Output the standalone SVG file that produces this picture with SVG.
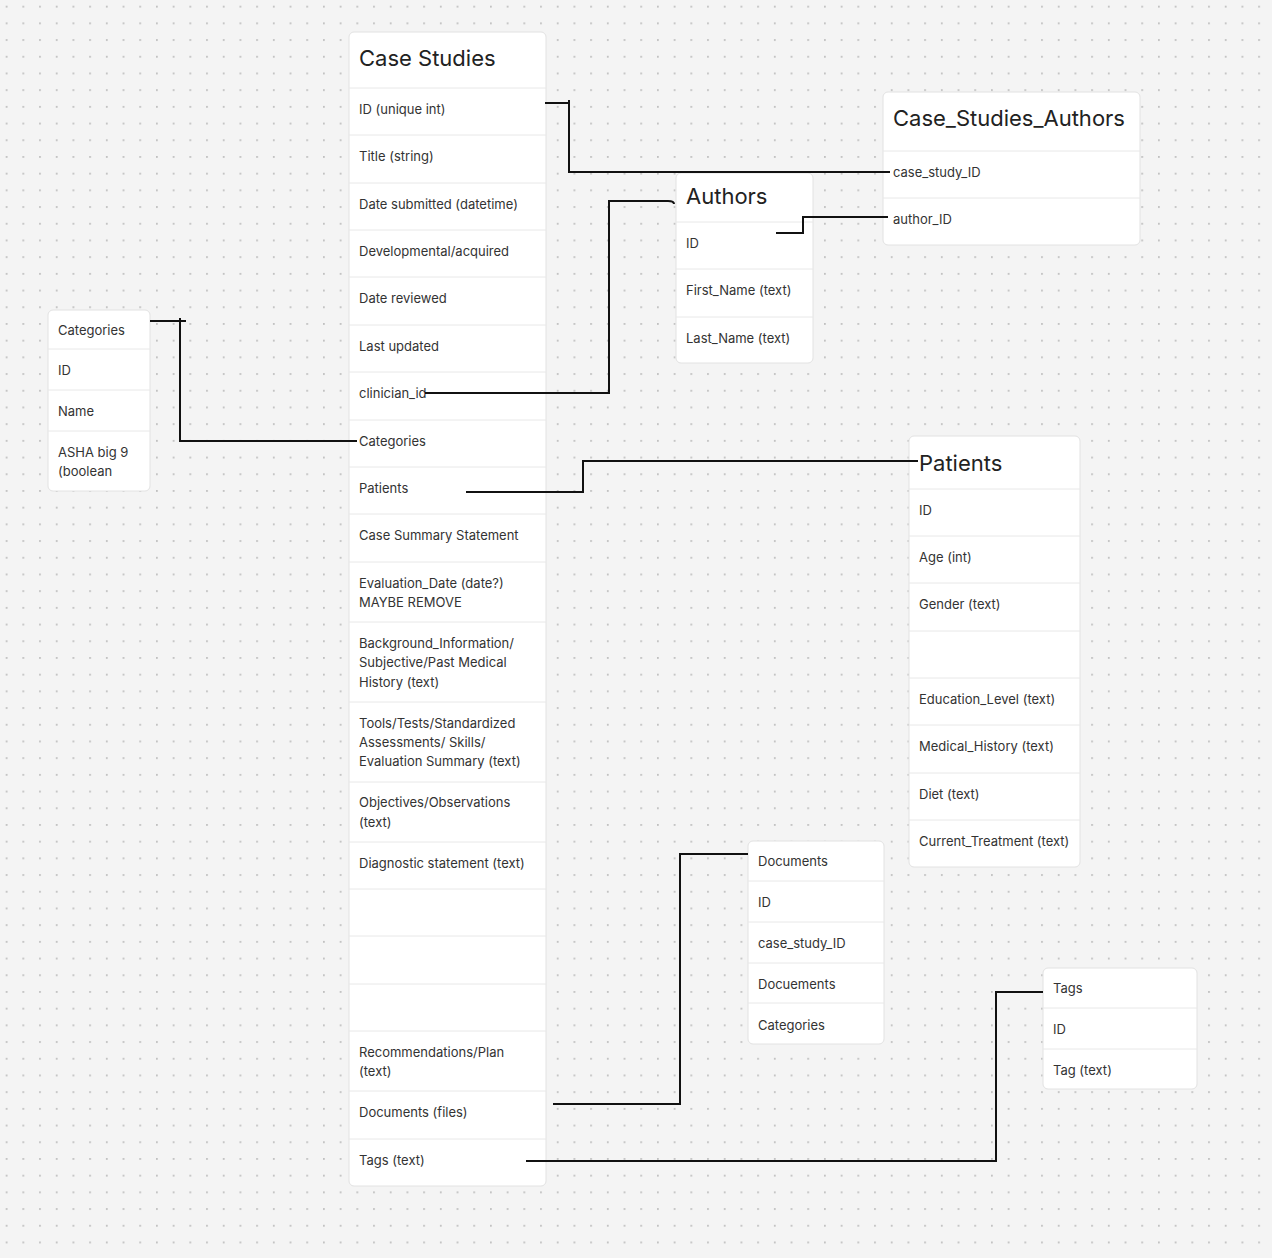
<svg xmlns="http://www.w3.org/2000/svg" width="1272" height="1258" viewBox="0 0 1272 1258">
<defs>
<pattern id="dots" x="5.7" y="5.7" width="16.7" height="16.7" patternUnits="userSpaceOnUse"><circle cx="0.9" cy="0.9" r="0.9" fill="#b0b0b0"/></pattern>
<style>
.box{fill:#fff;stroke:#e2e2e2;stroke-width:1}
.div{stroke:#e8e8e8;stroke-width:1}
.t{font-family:Inter,"Liberation Sans",sans-serif;font-size:13px;fill:#333}
.h{font-family:Inter,"Liberation Sans",sans-serif;font-size:22px;fill:#222}
.c{fill:none;stroke:#111;stroke-width:2}
</style>
</defs>
<rect width="1272" height="1258" fill="#f4f4f4"/>
<rect width="1272" height="1258" fill="url(#dots)"/>

<g id="case-studies">
<rect class="box" x="349" y="32" width="197" height="1154" rx="5"/>
<g class="div">
<line x1="349" x2="546" y1="88" y2="88"/><line x1="349" x2="546" y1="135" y2="135"/><line x1="349" x2="546" y1="183" y2="183"/><line x1="349" x2="546" y1="230" y2="230"/><line x1="349" x2="546" y1="277" y2="277"/><line x1="349" x2="546" y1="325" y2="325"/><line x1="349" x2="546" y1="372" y2="372"/><line x1="349" x2="546" y1="420" y2="420"/><line x1="349" x2="546" y1="467" y2="467"/><line x1="349" x2="546" y1="514" y2="514"/><line x1="349" x2="546" y1="562" y2="562"/><line x1="349" x2="546" y1="622" y2="622"/><line x1="349" x2="546" y1="702" y2="702"/><line x1="349" x2="546" y1="782" y2="782"/><line x1="349" x2="546" y1="842" y2="842"/><line x1="349" x2="546" y1="889" y2="889"/><line x1="349" x2="546" y1="936" y2="936"/><line x1="349" x2="546" y1="984" y2="984"/><line x1="349" x2="546" y1="1031" y2="1031"/><line x1="349" x2="546" y1="1091" y2="1091"/><line x1="349" x2="546" y1="1139" y2="1139"/>
</g>
<text class="h" x="359" y="66">Case Studies</text>
<text class="t" x="359" y="114">ID (unique int)</text>
<text class="t" x="359" y="161">Title (string)</text>
<text class="t" x="359" y="209">Date submitted (datetime)</text>
<text class="t" x="359" y="256">Developmental/acquired</text>
<text class="t" x="359" y="303">Date reviewed</text>
<text class="t" x="359" y="351">Last updated</text>
<text class="t" x="359" y="398">clinician_id</text>
<text class="t" x="359" y="446">Categories</text>
<text class="t" x="359" y="493">Patients</text>
<text class="t" x="359" y="540">Case Summary Statement</text>
<text class="t" x="359" y="588">Evaluation_Date (date?)</text>
<text class="t" x="359" y="607">MAYBE REMOVE</text>
<text class="t" x="359" y="648">Background_Information/</text>
<text class="t" x="359" y="667">Subjective/Past Medical</text>
<text class="t" x="359" y="687">History (text)</text>
<text class="t" x="359" y="728">Tools/Tests/Standardized</text>
<text class="t" x="359" y="747">Assessments/ Skills/</text>
<text class="t" x="359" y="766">Evaluation Summary (text)</text>
<text class="t" x="359" y="807">Objectives/Observations</text>
<text class="t" x="359" y="827">(text)</text>
<text class="t" x="359" y="868">Diagnostic statement (text)</text>
<text class="t" x="359" y="1057">Recommendations/Plan</text>
<text class="t" x="359" y="1076">(text)</text>
<text class="t" x="359" y="1117">Documents (files)</text>
<text class="t" x="359" y="1165">Tags (text)</text>
</g>

<g id="case-studies-authors">
<rect class="box" x="883" y="92" width="257" height="153" rx="5"/>
<line class="div" x1="883" x2="1140" y1="151" y2="151"/><line class="div" x1="883" x2="1140" y1="198" y2="198"/>
<text class="h" x="893" y="126">Case_Studies_Authors</text>
<text class="t" x="893" y="177">case_study_ID</text>
<text class="t" x="893" y="224">author_ID</text>
</g>

<g id="authors">
<rect class="box" x="676" y="173" width="137" height="190" rx="5"/>
<line class="div" x1="676" x2="813" y1="222" y2="222"/><line class="div" x1="676" x2="813" y1="269" y2="269"/><line class="div" x1="676" x2="813" y1="317" y2="317"/>
<text class="h" x="686" y="204">Authors</text>
<text class="t" x="686" y="248">ID</text>
<text class="t" x="686" y="295">First_Name (text)</text>
<text class="t" x="686" y="343">Last_Name (text)</text>
</g>

<g id="categories">
<rect class="box" x="48" y="310" width="102" height="181" rx="5"/>
<line class="div" x1="48" x2="150" y1="349" y2="349"/><line class="div" x1="48" x2="150" y1="390" y2="390"/><line class="div" x1="48" x2="150" y1="431" y2="431"/>
<text class="t" x="58" y="335">Categories</text>
<text class="t" x="58" y="375">ID</text>
<text class="t" x="58" y="416">Name</text>
<text class="t" x="58" y="457">ASHA big 9</text>
<text class="t" x="58" y="476">(boolean</text>
</g>

<g id="patients">
<rect class="box" x="909" y="436" width="171" height="431" rx="5"/>
<g class="div"><line x1="909" x2="1080" y1="489" y2="489"/><line x1="909" x2="1080" y1="536" y2="536"/><line x1="909" x2="1080" y1="583" y2="583"/><line x1="909" x2="1080" y1="631" y2="631"/><line x1="909" x2="1080" y1="678" y2="678"/><line x1="909" x2="1080" y1="725" y2="725"/><line x1="909" x2="1080" y1="773" y2="773"/><line x1="909" x2="1080" y1="820" y2="820"/></g>
<text class="h" x="919" y="471">Patients</text>
<text class="t" x="919" y="515">ID</text>
<text class="t" x="919" y="562">Age (int)</text>
<text class="t" x="919" y="609">Gender (text)</text>
<text class="t" x="919" y="704">Education_Level (text)</text>
<text class="t" x="919" y="751">Medical_History (text)</text>
<text class="t" x="919" y="799">Diet (text)</text>
<text class="t" x="919" y="846">Current_Treatment (text)</text>
</g>

<g id="documents">
<rect class="box" x="748" y="841" width="136" height="203" rx="5"/>
<g class="div"><line x1="748" x2="884" y1="881" y2="881"/><line x1="748" x2="884" y1="922" y2="922"/><line x1="748" x2="884" y1="963" y2="963"/><line x1="748" x2="884" y1="1003" y2="1003"/></g>
<text class="t" x="758" y="866">Documents</text>
<text class="t" x="758" y="907">ID</text>
<text class="t" x="758" y="948">case_study_ID</text>
<text class="t" x="758" y="989">Docuements</text>
<text class="t" x="758" y="1030">Categories</text>
</g>

<g id="tags">
<rect class="box" x="1043" y="968" width="154" height="121" rx="5"/>
<line class="div" x1="1043" x2="1197" y1="1008" y2="1008"/><line class="div" x1="1043" x2="1197" y1="1049" y2="1049"/>
<text class="t" x="1053" y="993">Tags</text>
<text class="t" x="1053" y="1034">ID</text>
<text class="t" x="1053" y="1075">Tag (text)</text>
</g>

<g id="connectors">
<path class="c" d="M545 103 H569 V172 H890"/>
<line class="c" x1="569" y1="100" x2="569" y2="106"/>
<path class="c" d="M776 233 H803 V217 H888"/>
<path class="c" d="M425 393 H609 V201 H668 Q674 201 674 204"/>
<path class="c" d="M150 321 H186 M180 318 V441 H357"/>
<path class="c" d="M466 492 H583 V461 H918"/>
<path class="c" d="M553 1104 H680 V854 H748"/>
<path class="c" d="M526 1161 H996 V992 H1043"/>
</g>
</svg>
